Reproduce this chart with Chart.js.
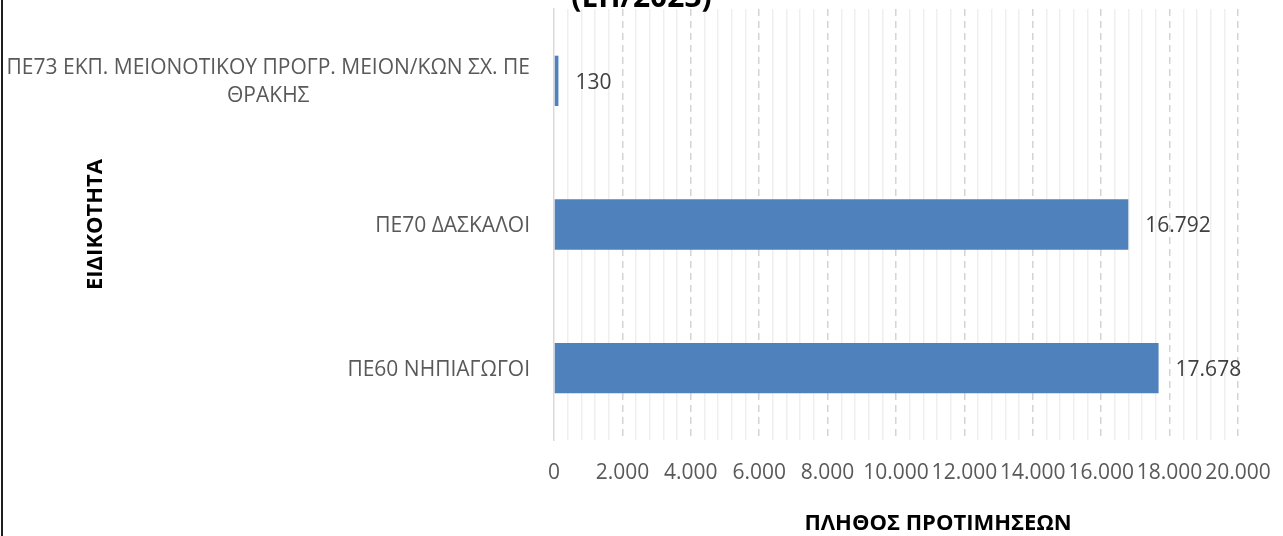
<!DOCTYPE html>
<html lang="el">
<head>
<meta charset="utf-8">
<title>ΠΛΗΘΟΣ ΠΡΟΤΙΜΗΣΕΩΝ</title>
<script src="https://cdn.jsdelivr.net/npm/chart.js@4/dist/chart.umd.min.js"></script>
<style>
  html, body { margin: 0; background: #fff; }
  canvas { display: block; }
</style>
</head>
<body>
<canvas id="chart" width="1283" height="536"></canvas>
<script>
// data
const categories = [
  ['ΠΕ73 ΕΚΠ. ΜΕΙΟΝΟΤΙΚΟΥ ΠΡΟΓΡ. ΜΕΙΟΝ/ΚΩΝ ΣΧ. ΠΕ', 'ΘΡΑΚΗΣ'],
  'ΠΕ70 ΔΑΣΚΑΛΟΙ',
  'ΠΕ60 ΝΗΠΙΑΓΩΓΟΙ'
];
const preferences = [130, 16792, 17678];
const xTickValues = [0, 2000, 4000, 6000, 8000, 10000, 12000, 14000, 16000, 18000, 20000];
const minorStep = 400;

const chartTitle = '(ΕΠ/2023)';
const xTitle = 'ΠΛΗΘΟΣ ΠΡΟΤΙΜΗΣΕΩΝ';
const yTitle = 'ΕΙΔΙΚΟΤΗΤΑ';

const FONT = '"Open Sans", sans-serif';
Chart.defaults.font.family = FONT;

// 16792 -> "16.792"
const fmt = v => String(v).replace(/\B(?=(\d{3})+(?!\d))/g, '.');

const textPlugin = {
  id: 'textPlugin',
  beforeDraw(chart) {
    // left edge of the chart frame
    const { ctx, height } = chart;
    ctx.save();
    ctx.fillStyle = '#1f1f1f';
    ctx.fillRect(1, 0, 2, height);
    ctx.restore();
  },
  afterDraw(chart) {
    const { ctx, chartArea } = chart;
    const y = chart.scales.y;
    ctx.save();
    ctx.textBaseline = 'middle';

    // category labels, lines centred on each other, block right aligned
    ctx.font = '21px ' + FONT;
    ctx.fillStyle = '#595959';
    ctx.textAlign = 'center';
    const right = y.right - 24;
    categories.forEach((label, i) => {
      const lines = [].concat(label);
      const widest = Math.max(...lines.map(l => ctx.measureText(l).width));
      const cy = y.getPixelForTick(i);
      lines.forEach((line, j) => {
        ctx.fillText(line, right - widest / 2, cy + (j - (lines.length - 1) / 2) * 28 + 1.5);
      });
    });

    // value labels
    ctx.fillStyle = '#404040';
    ctx.textAlign = 'left';
    chart.getDatasetMeta(0).data.forEach((bar, i) => {
      ctx.fillText(fmt(preferences[i]), bar.x + 17, bar.y + 2);
    });

    // x axis title
    ctx.font = 'bold 22px ' + FONT;
    ctx.fillStyle = '#000';
    ctx.textAlign = 'center';
    ctx.fillText(xTitle, (chartArea.left + chartArea.right) / 2 + 42, 524);
    ctx.restore();
  }
};

function draw() {
  new Chart(document.getElementById('chart'), {
    type: 'bar',
    data: {
      labels: categories,
      datasets: [{
        data: preferences,
        backgroundColor: '#4F81BD',
        borderWidth: 0,
        categoryPercentage: 1,
        barPercentage: 0.35
      }]
    },
    options: {
      indexAxis: 'y',
      responsive: false,
      animation: false,
      layout: { padding: 0 },
      plugins: {
        legend: { display: false },
        tooltip: { enabled: false },
        title: {
          display: true,
          text: chartTitle,
          color: '#000',
          font: { size: 30, weight: 'bold' },
          padding: { top: -19.5, bottom: -7.5 }
        }
      },
      scales: {
        y: {
          grid: { display: false },
          border: { display: true, color: '#D9D9D9', width: 1.5 },
          ticks: { display: false },
          title: {
            display: true,
            text: yTitle,
            color: '#000',
            font: { size: 22, weight: 'bold' },
            padding: { top: 83, bottom: 0 }
          },
          afterFit(s) {
            s.width = 554;
            s.paddingTop = 0;
            s.paddingBottom = 0;
          }
        },
        x: {
          position: 'bottom',
          min: 0,
          max: 20000,
          afterBuildTicks(s) {
            s.ticks = xTickValues.map(v => ({ value: v }));
          },
          grid: {
            drawTicks: false,
            lineWidth: 1.5,
            color: c => (c.tick && c.tick.value === 0 ? 'rgba(0,0,0,0)' : '#D4D4D4')
          },
          border: { display: false, dash: [7, 5] },
          ticks: {
            autoSkip: false,
            minRotation: 0,
            maxRotation: 0,
            padding: 20,
            color: '#595959',
            font: { size: 21 },
            callback: v => fmt(v)
          },
          afterFit(s) {
            s.height = 96;
            s.paddingLeft = 0;
            s.paddingRight = 45;
          }
        },
        minor: {
          type: 'linear',
          axis: 'x',
          position: 'bottom',
          min: 0,
          max: 20000,
          ticks: { display: false, stepSize: minorStep },
          grid: {
            drawTicks: false,
            lineWidth: 1.5,
            color: c => (c.tick && c.tick.value % 2000 === 0 ? 'rgba(0,0,0,0)' : '#EFEFEF')
          },
          border: { display: false },
          afterFit(s) {
            s.height = 0;
            s.paddingLeft = 0;
            s.paddingRight = 0;
          }
        }
      }
    },
    plugins: [textPlugin]
  });
}

if (document.fonts && document.fonts.load) {
  Promise.all([
    document.fonts.load('21px "Open Sans"'),
    document.fonts.load('bold 22px "Open Sans"')
  ]).then(draw, draw);
} else {
  draw();
}
</script>
</body>
</html>
